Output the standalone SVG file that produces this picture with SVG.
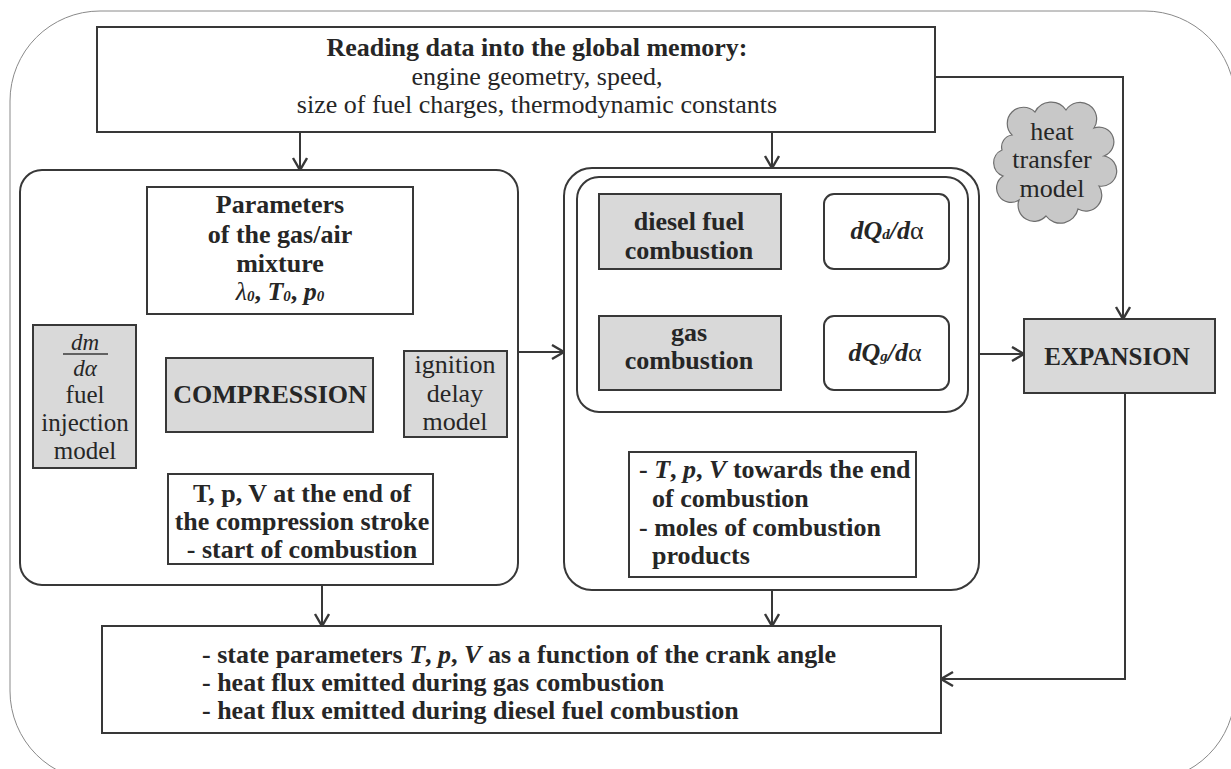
<svg xmlns="http://www.w3.org/2000/svg" width="1231" height="769" viewBox="0 0 1231 769" font-family="Liberation Serif, Times New Roman, DejaVu Serif, serif">
  <style>
    text { font-family: 'Liberation Serif', 'Times New Roman', 'DejaVu Serif', serif; font-size: 26px; fill: #262626; }
    .c { text-anchor: middle; }
    .b { font-weight: bold; }
    .i { font-style: italic; }
    .n { font-weight: normal; }
    .u { font-style: normal; }
    .sub { font-size: 15px; }
    .box { fill: #ffffff; stroke: #383838; stroke-width: 2; }
    .gray { fill: #d9d9d9; stroke: #383838; stroke-width: 2; }
    .wire { fill: none; stroke: #383838; stroke-width: 2; }
    .arrow { marker-end: url(#arr); }
  </style>
  <defs>
    <marker id="arr" markerUnits="userSpaceOnUse" markerWidth="16" markerHeight="18" refX="13" refY="8" orient="auto">
      <path d="M1,1 L13,8 L1,15" fill="none" stroke="#383838" stroke-width="2.4" stroke-linejoin="miter"/>
    </marker>
  </defs>

  <!-- page frame -->
  <rect x="10" y="11" width="1225" height="770" rx="90" ry="90" fill="#ffffff" stroke="#8a8a8a" stroke-width="1"/>

  <!-- connectors -->
  <g id="connectors">
    <path class="wire arrow" d="M300,132 V170"/>
    <path class="wire arrow" d="M772,132 V168"/>
    <path class="wire arrow" d="M935,77 H1123 V319"/>
    <path class="wire arrow" d="M280,314 V358"/>
    <path class="wire arrow" d="M136,393 H166"/>
    <path class="wire arrow" d="M373,394 H404"/>
    <path class="wire arrow" d="M280,432 V474"/>
    <path class="wire arrow" d="M468,437 V512 H433"/>
    <path class="wire arrow" d="M518,352 H564"/>
    <path class="wire arrow" d="M781,231 H824"/>
    <path class="wire arrow" d="M781,352 H824"/>
    <path class="wire arrow" d="M770,412 V452"/>
    <path class="wire arrow" d="M979,354 H1024"/>
    <path class="wire arrow" d="M322,585 V626"/>
    <path class="wire arrow" d="M772,590 V626"/>
    <path class="wire arrow" d="M1125,393 V679 H941"/>
  </g>

  <!-- input data -->
  <g id="input-data">
    <rect class="box" x="97" y="27" width="838" height="105"/>
    <text class="c b" x="537" y="56">Reading data into the global memory:</text>
    <text class="c" x="537" y="85">engine geometry, speed,</text>
    <text class="c" x="537" y="113">size of fuel charges, thermodynamic constants</text>
  </g>

  <!-- compression stage -->
  <g id="compression-stage">
    <rect class="box" x="20" y="170" width="498" height="415" rx="22" ry="22"/>
  </g>

  <g id="mixture-parameters">
    <rect class="box" x="147" y="187" width="266" height="127"/>
    <text class="c b" x="280" y="213">Parameters</text>
    <text class="c b" x="280" y="243">of the gas/air</text>
    <text class="c b" x="280" y="272">mixture</text>
    <text class="c b" x="280" y="300"><tspan class="i n">λ</tspan><tspan class="i sub" dy="1">0</tspan><tspan dy="-1">, </tspan><tspan class="i">T</tspan><tspan class="i sub" dy="1">0</tspan><tspan dy="-1">, </tspan><tspan class="i">p</tspan><tspan class="i sub" dy="1">0</tspan></text>
  </g>

  <g id="fuel-injection">
    <rect class="gray" x="33" y="325" width="103" height="143"/>
    <text class="c i" x="85" y="350" style="font-size:23px">dm</text>
    <line x1="63" y1="354" x2="108" y2="354" stroke="#383838" stroke-width="1.5"/>
    <text class="c i" x="85" y="376" style="font-size:23px">dα</text>
    <text class="c" x="85" y="403" style="font-size:25px">fuel</text>
    <text class="c" x="85" y="431" style="font-size:25px">injection</text>
    <text class="c" x="85" y="459" style="font-size:25px">model</text>
  </g>

  <g id="compression">
    <rect class="gray" x="166" y="358" width="207" height="74"/>
    <text class="c b" x="270" y="403">COMPRESSION</text>
  </g>

  <g id="ignition-delay">
    <rect class="gray" x="404" y="351" width="103" height="86"/>
    <text class="c" x="455" y="373">ignition</text>
    <text class="c" x="455" y="402">delay</text>
    <text class="c" x="455" y="430">model</text>
  </g>

  <g id="compression-end">
    <rect class="box" x="168" y="474" width="265" height="90"/>
    <text class="c b" x="302" y="502">T, p, V at the end of</text>
    <text class="c b" x="302" y="530">the compression stroke</text>
    <text class="c b" x="302" y="558">- start of combustion</text>
  </g>

  <!-- combustion stage -->
  <g id="combustion-stage">
    <rect class="box" x="564" y="168" width="415" height="422" rx="28" ry="28"/>
    <rect class="box" x="577" y="177" width="391" height="235" rx="22" ry="22"/>
  </g>

  <g id="diesel-combustion">
    <rect class="gray" x="599" y="194" width="182" height="75"/>
    <text class="c b" x="689" y="230">diesel fuel</text>
    <text class="c b" x="689" y="259">combustion</text>
  </g>

  <g id="diesel-heat-release">
    <rect class="box" x="824" y="194" width="125" height="75" rx="10" ry="10"/>
    <text class="c b i" x="887" y="239">dQ<tspan class="sub">d</tspan>/d<tspan class="n u">α</tspan></text>
  </g>

  <g id="gas-combustion">
    <rect class="gray" x="599" y="316" width="182" height="74"/>
    <text class="c b" x="689" y="341">gas</text>
    <text class="c b" x="689" y="369">combustion</text>
  </g>

  <g id="gas-heat-release">
    <rect class="box" x="824" y="316" width="125" height="74" rx="10" ry="10"/>
    <text class="c b i" x="885" y="361">dQ<tspan class="sub">g</tspan>/d<tspan class="n u">α</tspan></text>
  </g>

  <g id="combustion-end">
    <rect class="box" x="629" y="452" width="287" height="125"/>
    <text class="b" x="639" y="478">- <tspan class="i">T</tspan>, <tspan class="i">p</tspan>, <tspan class="i">V</tspan> towards the end</text>
    <text class="b" x="652" y="507">of combustion</text>
    <text class="b" x="639" y="536">- moles of combustion</text>
    <text class="b" x="652" y="564">products</text>
  </g>

  <!-- heat transfer model -->
  <g id="heat-transfer">
    <path d="M1012,135 A16,16 0 0 1 1035,112 A18,18 0 0 1 1066,110 A16,16 0 0 1 1094,128 A14,14 0 0 1 1104,156 A14,14 0 0 1 1099,186 A16,16 0 0 1 1078,209 A18,18 0 0 1 1046,216 A16,16 0 0 1 1019,200 A14,14 0 0 1 1003,176 A14,14 0 0 1 1002,150 A12,12 0 0 1 1012,135 Z" fill="#c8c8c8" stroke="#6e6e6e" stroke-width="1.2"/>
    <text class="c" x="1052" y="140">heat</text>
    <text class="c" x="1052" y="168">transfer</text>
    <text class="c" x="1052" y="197">model</text>
  </g>

  <g id="expansion">
    <rect class="gray" x="1024" y="319" width="191" height="74"/>
    <text class="c b" x="1117" y="365" style="font-size:25px">EXPANSION</text>
  </g>

  <!-- results -->
  <g id="results">
    <rect class="box" x="102" y="626" width="839" height="107"/>
    <text class="b" x="202" y="663">- state parameters <tspan class="i">T</tspan>, <tspan class="i">p</tspan>, <tspan class="i">V</tspan> as a function of the crank angle</text>
    <text class="b" x="202" y="691">- heat flux emitted during gas combustion</text>
    <text class="b" x="202" y="719">- heat flux emitted during diesel fuel combustion</text>
  </g>
</svg>
